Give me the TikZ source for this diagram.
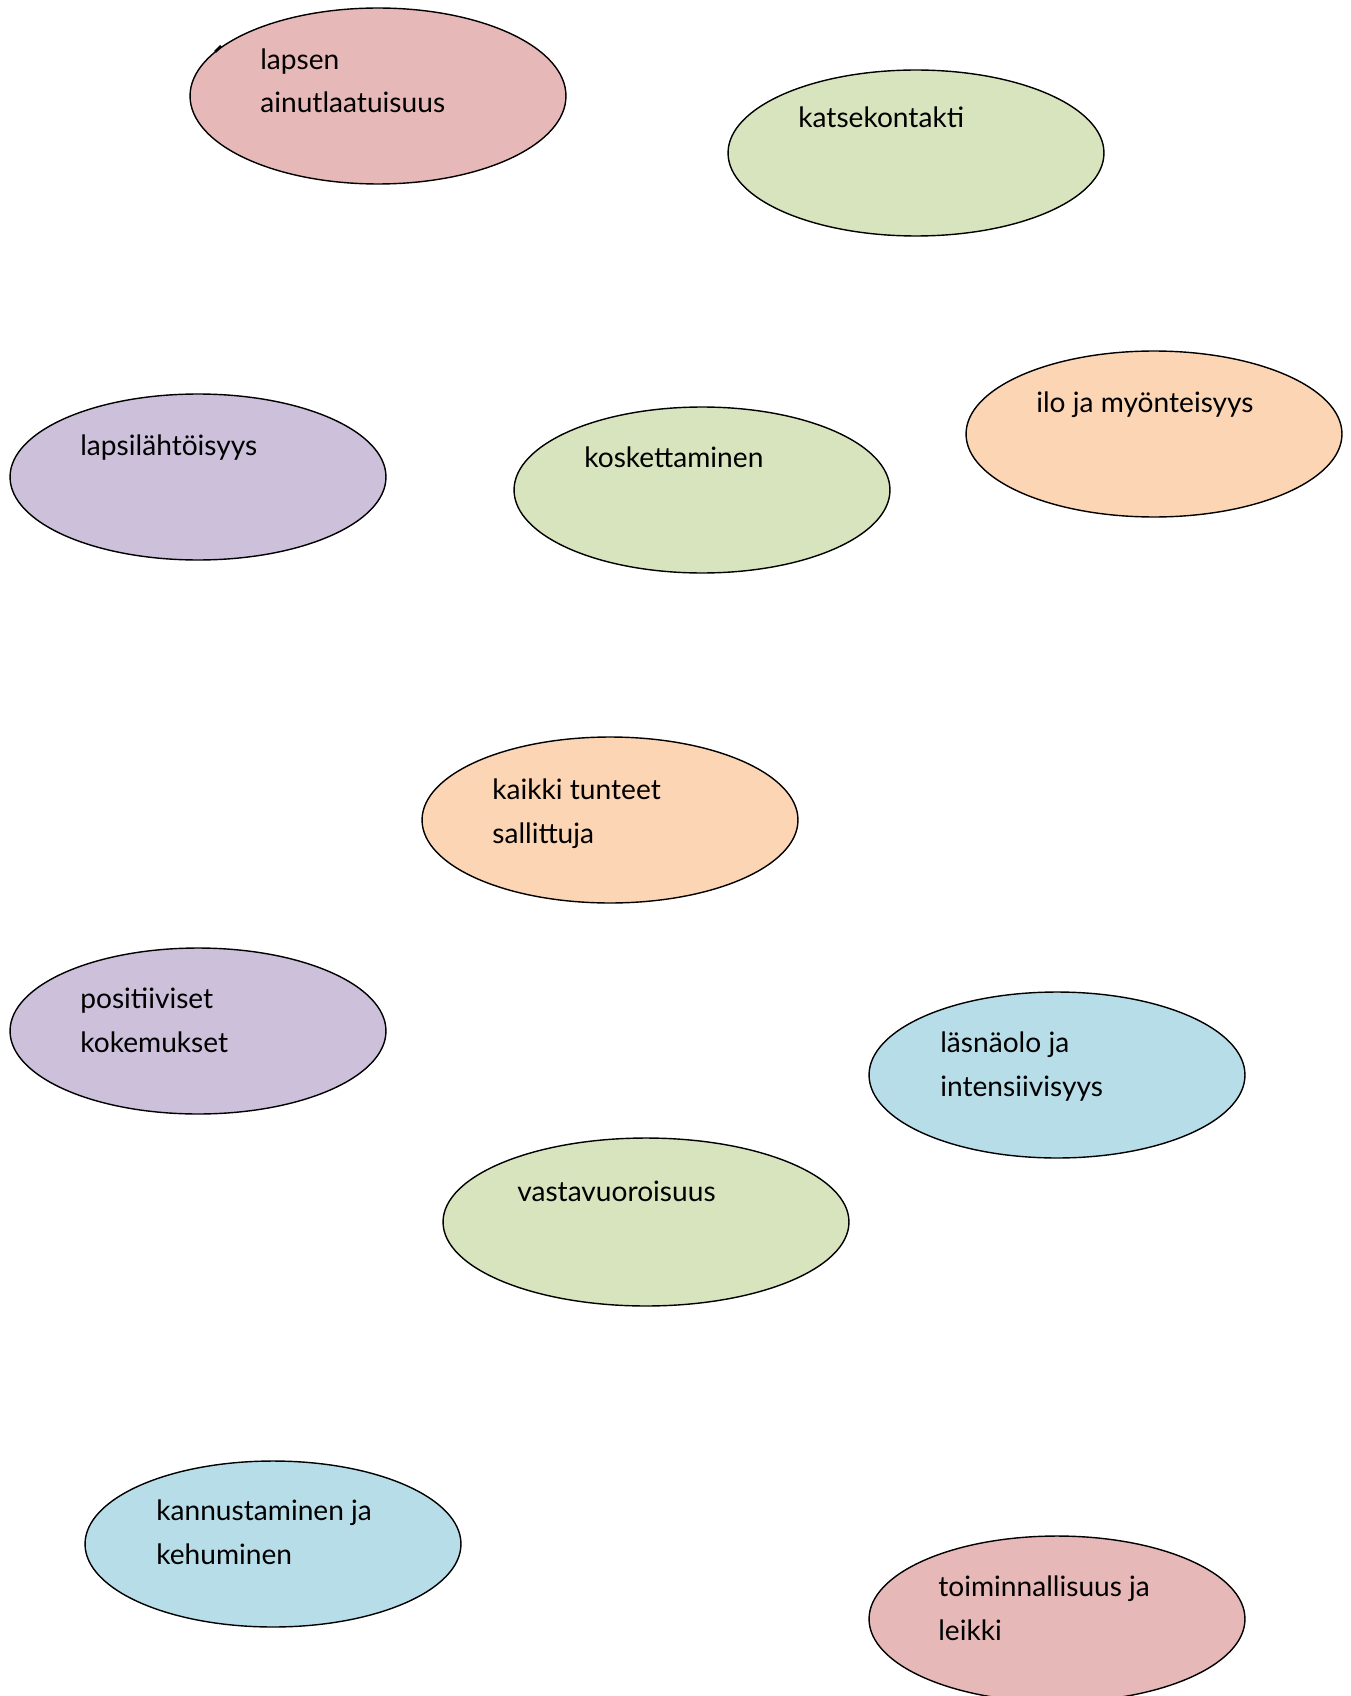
\documentclass[tikz,border=0pt]{standalone}
\usepackage{fontspec}
\setmainfont{Lato}
\usetikzlibrary{shapes.geometric}
\definecolor{pinkfill}{HTML}{E6B8B7}
\definecolor{greenfill}{HTML}{D7E4BD}
\definecolor{lilacfill}{HTML}{CCC0DA}
\definecolor{peachfill}{HTML}{FCD5B5}
\definecolor{bluefill}{HTML}{B7DEE8}
\begin{document}
\begin{tikzpicture}[x=0.02cm,y=-0.02cm,
  blob/.style={shape=ellipse,draw=black,line width=0.8pt,inner sep=0pt,minimum width=7.52cm,minimum height=3.32cm},
  blobW/.style={blob,minimum width=8.12cm,minimum height=3.36cm},
  word/.style={anchor=base west,inner sep=0pt,align=left,font=\fontsize{16}{24.5}\selectfont}]
\useasboundingbox (0,0) rectangle (1350,1696);

% first row
\node[blob,fill=pinkfill,minimum height=3.52cm] (lapsen) at (378,96) {};
\node[word] (lapsenT) at (260,113) {lapsen\\ainutlaatuisuus};
\draw[line width=1.6pt] (215,52) -- (221,46);

\node[blob,fill=greenfill] (katse) at (916,153) {};
\node[word] (katseT) at (798,128) {katsekontakti};

\node[blob,fill=lilacfill] (lapsil) at (198,477) {};
\node[word] (lapsilT) at (80,455) {lapsilähtöisyys};

\node[blob,fill=greenfill] (kosk) at (702,490) {};
\node[word] (koskT) at (584,467) {koskettaminen};

\node[blob,fill=peachfill] (ilo) at (1154,434) {};
\node[word] (iloT) at (1036,412) {ilo ja myönteisyys};

% middle
\node[blob,fill=peachfill] (tunteet) at (610,820) {};
\node[word] (tunteetT) at (492,843) {kaikki tunteet\\sallittuja};

\node[blob,fill=lilacfill] (posit) at (198,1031) {};
\node[word] (positT) at (80,1052) {positiiviset\\kokemukset};

\node[blob,fill=bluefill] (lasna) at (1057,1075) {};
\node[word] (lasnaT) at (940,1096) {läsnäolo ja\\intensiivisyys};

\node[blobW,fill=greenfill] (vasta) at (646,1222) {};
\node[word] (vastaT) at (517,1201) {vastavuoroisuus};

% bottom
\node[blob,fill=bluefill] (kannus) at (273,1544) {};
\node[word] (kannusT) at (156,1564) {kannustaminen ja\\kehuminen};

\node[blob,fill=pinkfill] (toimin) at (1057,1619) {};
\node[word] (toiminT) at (938,1640) {toiminnallisuus ja\\leikki};
\end{tikzpicture}
\end{document}
